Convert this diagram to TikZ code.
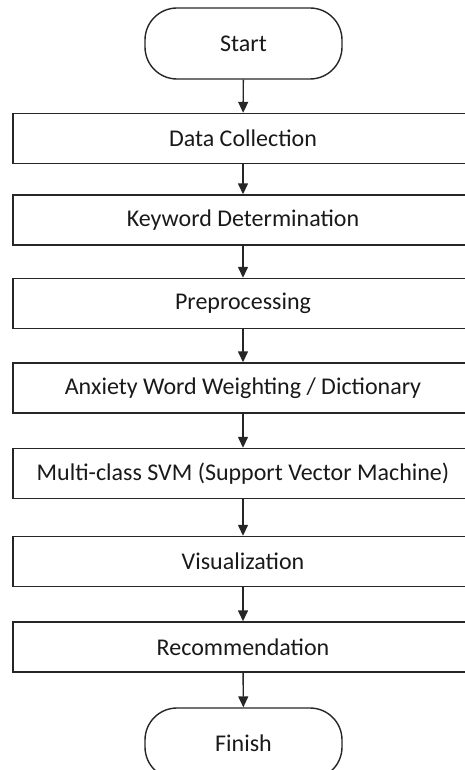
\documentclass[tikz,border=0pt]{standalone}
\usepackage{fontspec}
\setmainfont{Carlito}
\usetikzlibrary{arrows.meta}
\begin{document}
\begin{tikzpicture}[x=1pt,y=-1pt,
  stepbox/.style={draw=black!85, line width=1.4pt, minimum width=460pt, minimum height=50pt, inner sep=0pt, font=\fontsize{24}{26}\selectfont, text=black!90},
  term/.style={draw=black!85, line width=1.4pt, minimum width=197pt, minimum height=71pt, rounded corners=32pt, inner sep=0pt, font=\fontsize{24}{26}\selectfont, text=black!90},
  conn/.style={draw=black!85, line width=1.4pt, -{Triangle[length=11pt,width=10pt]}}]
\useasboundingbox (0,0) rectangle (465,770);
\begin{scope}
\clip (0,0) rectangle (465,770);
\node[term] (start) at (243.5,43.5) {Start};
\node[stepbox] (dc) at (243,138.5) {Data Collection};
\node[stepbox] (kd) at (243,220) {Keyword Determination};
\node[stepbox] (pp) at (243,303.5) {Preprocessing};
\node[stepbox] (aw) at (243,388) {Anxiety Word Weighting / Dictionary};
\node[stepbox] (svm) at (243,473.5) {Multi-class SVM (Support Vector Machine)};
\node[stepbox] (vis) at (243,561.5) {Visualization};
\node[stepbox] (rec) at (243,647) {Recommendation};
\node[term] (fin) at (243.5,743.5) {Finish};
\draw[conn] (start) -- (dc);
\draw[conn] (dc) -- (kd);
\draw[conn] (kd) -- (pp);
\draw[conn] (pp) -- (aw);
\draw[conn] (aw) -- (svm);
\draw[conn] (svm) -- (vis);
\draw[conn] (vis) -- (rec);
\draw[conn] (rec) -- (fin);
\end{scope}
\end{tikzpicture}
\end{document}
